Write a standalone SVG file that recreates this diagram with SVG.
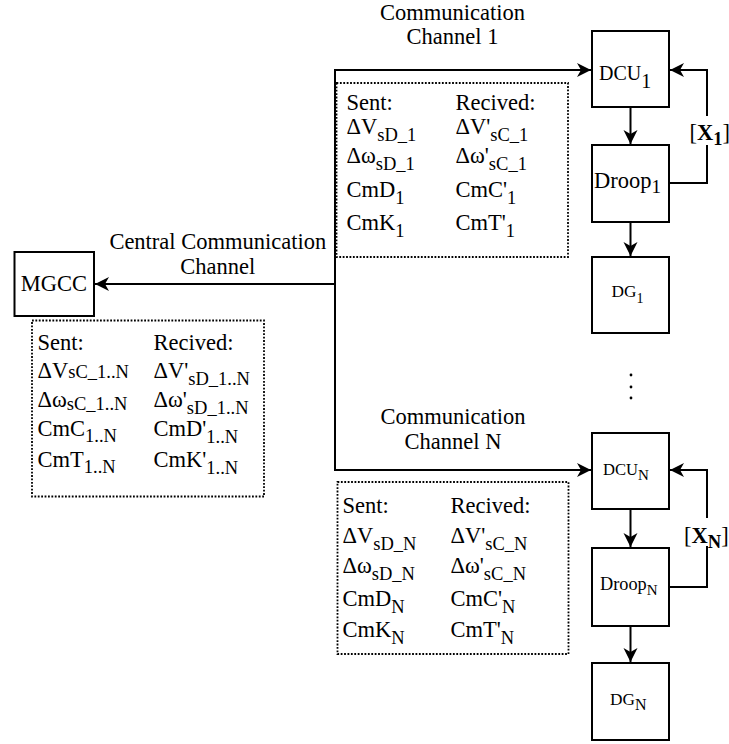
<svg xmlns="http://www.w3.org/2000/svg" width="729" height="744" viewBox="0 0 729 744">
  <defs>
    <marker id="arrow" markerUnits="userSpaceOnUse" markerWidth="16" markerHeight="16" viewBox="0 0 16 16" refX="15" refY="8" orient="auto">
      <path d="M1,1 L15,8 L1,15 L5,8 Z" fill="#000"/>
    </marker>
  </defs>
  <style>
    .box{fill:#fff;stroke:#000;stroke-width:2}
    .frame{fill:none;stroke:#000;stroke-width:1.8;stroke-dasharray:1.8 1.6}
    .wire{fill:none;stroke:#000;stroke-width:2}
    .wire.head{marker-end:url(#arrow)}
    text{font-family:"Liberation Serif","Times New Roman",serif;fill:#000}
    .t{font-size:22.5px}
    .s{font-size:18.5px}
    .b{font-weight:bold}
  </style>

  <rect width="729" height="744" fill="#fff"/>

  <!-- connectors -->
  <g id="connectors">
    <path class="wire head" d="M335,284 H95"/>
    <path class="wire head" d="M335,284 V70 H591"/>
    <path class="wire head" d="M335,284 V470 H591"/>
    <path class="wire head" d="M630.5,108 V144"/>
    <path class="wire head" d="M630.5,223 V256"/>
    <path class="wire head" d="M630.5,510 V547"/>
    <path class="wire head" d="M630.5,627 V662"/>
    <path class="wire head" d="M670,183 H707 V70 H670"/>
    <path class="wire head" d="M670,587 H707 V470 H670"/>
    <!-- feedback labels -->
    <rect x="687" y="116" width="42" height="29" fill="#fff"/>
    <text class="t" x="689.5" y="140">[<tspan class="b">X</tspan><tspan class="s b" dy="5">1</tspan><tspan dy="-5">]</tspan></text>
    <rect x="683" y="518" width="46" height="28" fill="#fff"/>
    <text class="t" x="684" y="543">[<tspan class="b">X</tspan><tspan class="s b" dy="5">N</tspan><tspan dy="-5">]</tspan></text>
    <!-- channel labels -->
    <text class="t" text-anchor="middle" x="452.5" y="19.5">Communication</text>
    <text class="t" text-anchor="middle" x="452.5" y="44">Channel 1</text>
    <text class="t" text-anchor="middle" x="217.8" y="248.5">Central Communication</text>
    <text class="t" text-anchor="middle" x="217.8" y="273.5">Channel</text>
    <text class="t" text-anchor="middle" x="453" y="423.5">Communication</text>
    <text class="t" text-anchor="middle" x="453" y="449">Channel N</text>
  </g>

  <!-- central controller -->
  <g id="mgcc">
    <rect class="box" x="14.5" y="252" width="79.5" height="64"/>
    <text class="t" text-anchor="middle" x="54" y="291">MGCC</text>
  </g>

  <!-- unit 1 -->
  <g id="dcu1">
    <rect class="box" x="592" y="31" width="77" height="76"/>
    <text style="font-size:20px" x="599" y="80">DCU<tspan style="font-size:20px" dy="8">1</tspan></text>
  </g>
  <g id="droop1">
    <rect class="box" x="592" y="145" width="77" height="77"/>
    <text style="font-size:22.5px" x="594" y="188">Droop<tspan style="font-size:19px" dy="5">1</tspan></text>
  </g>
  <g id="dg1">
    <rect class="box" x="592" y="257" width="77" height="76"/>
    <text style="font-size:17.3px" x="611.5" y="297">DG<tspan style="font-size:14px" dy="6">1</tspan></text>
  </g>

  <!-- unit N -->
  <g id="dcuN">
    <rect class="box" x="592" y="433" width="77" height="76"/>
    <text style="font-size:16.6px" x="603" y="475">DCU<tspan style="font-size:15px" dy="5">N</tspan></text>
  </g>
  <g id="droopN">
    <rect class="box" x="592" y="548" width="77" height="78"/>
    <text style="font-size:18.3px" x="600" y="590">Droop<tspan style="font-size:15px" dy="5">N</tspan></text>
  </g>
  <g id="dgN">
    <rect class="box" x="592" y="663" width="77" height="77"/>
    <text style="font-size:17.3px" x="610" y="705">DG<tspan style="font-size:16px" dy="5">N</tspan></text>
  </g>

  <!-- ellipsis between units -->
  <g id="more">
    <circle cx="631" cy="375" r="1.4"/>
    <circle cx="631" cy="387" r="1.4"/>
    <circle cx="631" cy="398" r="1.4"/>
  </g>

  <!-- exchanged data: channel 1 -->
  <g id="data1">
    <rect class="frame" x="336.5" y="83" width="231.5" height="174"/>
    <text class="t" x="346.5" y="109.5">Sent:</text>
    <text class="t" x="346.5" y="134">ΔV<tspan class="s" dy="7">sD_1</tspan></text>
    <text class="t" x="346.5" y="163">Δω<tspan class="s" dy="7">sD_1</tspan></text>
    <text class="t" x="346.5" y="197">CmD<tspan class="s" dy="7">1</tspan></text>
    <text class="t" x="346.5" y="230">CmK<tspan class="s" dy="7">1</tspan></text>
    <text class="t" x="455.5" y="109.5">Recived:</text>
    <text class="t" x="455.5" y="134">ΔV'<tspan class="s" dy="7">sC_1</tspan></text>
    <text class="t" x="455.5" y="163">Δω'<tspan class="s" dy="7">sC_1</tspan></text>
    <text class="t" x="455.5" y="197">CmC'<tspan class="s" dy="7">1</tspan></text>
    <text class="t" x="455.5" y="230">CmT'<tspan class="s" dy="7">1</tspan></text>
  </g>

  <!-- exchanged data: central channel -->
  <g id="dataC">
    <rect class="frame" x="32" y="320.5" width="232" height="176"/>
    <text class="t" x="37.5" y="350">Sent:</text>
    <text class="t" x="37.5" y="378">ΔV<tspan class="s">sC_1..N</tspan></text>
    <text class="t" x="37.5" y="407">Δω<tspan class="s" dy="3">sC_1..N</tspan></text>
    <text class="t" x="37.5" y="436">CmC<tspan class="s" dy="6">1..N</tspan></text>
    <text class="t" x="37.5" y="467">CmT<tspan class="s" dy="6">1..N</tspan></text>
    <text class="t" x="153.5" y="350">Recived:</text>
    <text class="t" x="153.5" y="378">ΔV'<tspan class="s" dy="7">sD_1..N</tspan></text>
    <text class="t" x="153.5" y="407">Δω'<tspan class="s" dy="7">sD_1..N</tspan></text>
    <text class="t" x="153.5" y="436">CmD'<tspan class="s" dy="7">1..N</tspan></text>
    <text class="t" x="153.5" y="467">CmK'<tspan class="s" dy="7">1..N</tspan></text>
  </g>

  <!-- exchanged data: channel N -->
  <g id="dataN">
    <rect class="frame" x="337.5" y="482" width="231" height="172"/>
    <text class="t" x="342.5" y="513">Sent:</text>
    <text class="t" x="342.5" y="543">ΔV<tspan class="s" dy="7">sD_N</tspan></text>
    <text class="t" x="342.5" y="573">Δω<tspan class="s" dy="7">sD_N</tspan></text>
    <text class="t" x="342.5" y="606">CmD<tspan class="s" dy="7">N</tspan></text>
    <text class="t" x="342.5" y="637">CmK<tspan class="s" dy="7">N</tspan></text>
    <text class="t" x="450.5" y="513">Recived:</text>
    <text class="t" x="450.5" y="543">ΔV'<tspan class="s" dy="7">sC_N</tspan></text>
    <text class="t" x="450.5" y="573">Δω'<tspan class="s" dy="7">sC_N</tspan></text>
    <text class="t" x="450.5" y="606">CmC'<tspan class="s" dy="7">N</tspan></text>
    <text class="t" x="450.5" y="637">CmT'<tspan class="s" dy="7">N</tspan></text>
  </g>
</svg>
